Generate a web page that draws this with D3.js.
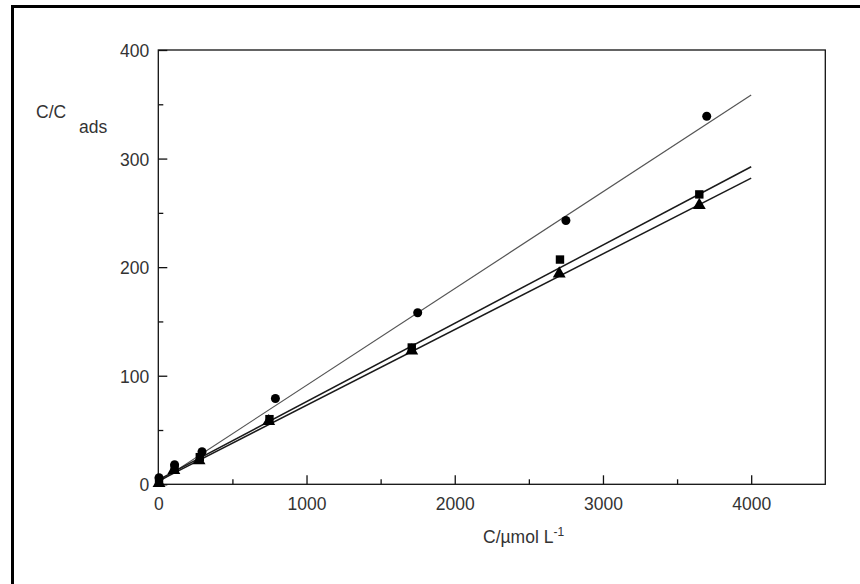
<!DOCTYPE html>
<html>
<head>
<meta charset="utf-8">
<script src="https://cdn.jsdelivr.net/npm/d3@7"></script>
<style>
  html, body { margin: 0; padding: 0; background: #fff; }
  svg { display: block; font-family: "Liberation Sans", Arial, sans-serif; }
</style>
</head>
<body>
<svg id="chart" width="860" height="584"></svg>
<script>
// values
const circleX = [5, 110, 295, 790, 1750, 2750, 3700];
const circleY = [6, 18, 30, 79, 158, 243, 339];
const squareX = [5, 110, 280, 750, 1710, 2710, 3650];
const squareY = [3, 15, 25, 60, 126, 207, 267];
const triangleX = [5, 105, 275, 745, 1710, 2705, 3650];
const triangleY = [1, 13, 22, 58, 123, 194, 257];

// fitted lines, endpoints [x, y]
const circleFit = [[0, 2], [4000, 358.5]];
const squareFit = [[0, 4], [4000, 292.5]];
const triangleFit = [[0, 3], [4000, 282]];

const xMajor = [0, 1000, 2000, 3000, 4000];
const xMinor = [500, 1500, 2500, 3500];
const yMajor = [0, 100, 200, 300, 400];
const yMinor = [50, 150, 250, 350];

const svg = d3.select("#chart");

// outer frame (runs off the page at right and bottom)
svg.append("rect")
  .attr("x", 12.5).attr("y", 6.5)
  .attr("width", 900).attr("height", 700)
  .attr("fill", "none").attr("stroke", "#000").attr("stroke-width", 3);

const x = d3.scaleLinear().domain([0, 4500]).range([158.3, 825.3]);
const y = d3.scaleLinear().domain([0, 400]).range([484.3, 50]);

// plot box
svg.append("rect")
  .attr("x", x(0)).attr("y", y(400))
  .attr("width", x(4500) - x(0)).attr("height", y(0) - y(400))
  .attr("fill", "none").attr("stroke", "#111").attr("stroke-width", 1.3);

// axes with ticks pointing inward
const xAxis = svg.append("g").attr("transform", `translate(0,${y(0)})`)
  .call(d3.axisBottom(x).tickValues(xMajor).tickFormat(d3.format("d"))
    .tickSizeInner(-9).tickSizeOuter(0).tickPadding(13));
const xAxisMinor = svg.append("g").attr("transform", `translate(0,${y(0)})`)
  .call(d3.axisBottom(x).tickValues(xMinor).tickFormat("")
    .tickSizeInner(-5).tickSizeOuter(0));
const yAxis = svg.append("g").attr("transform", `translate(${x(0)},0)`)
  .call(d3.axisLeft(y).tickValues(yMajor).tickFormat(d3.format("d"))
    .tickSizeInner(-9).tickSizeOuter(0).tickPadding(9));
const yAxisMinor = svg.append("g").attr("transform", `translate(${x(0)},0)`)
  .call(d3.axisLeft(y).tickValues(yMinor).tickFormat("")
    .tickSizeInner(-5).tickSizeOuter(0));

[xAxis, xAxisMinor, yAxis, yAxisMinor].forEach(a => {
  a.select(".domain").remove();
  a.selectAll("line").attr("stroke", "#111").attr("stroke-width", 1.3);
  a.selectAll("text").attr("font-size", 17.5).attr("fill", "#333")
    .attr("font-family", "Liberation Sans, Arial, sans-serif");
});
yAxis.selectAll("text").attr("dy", "0.38em");

// fit lines
const line = d3.line().x(d => x(d[0])).y(d => y(d[1]));
svg.append("path").datum(circleFit).attr("d", line)
  .attr("fill", "none").attr("stroke", "#555").attr("stroke-width", 1.2);
svg.append("path").datum(squareFit).attr("d", line)
  .attr("fill", "none").attr("stroke", "#1a1a1a").attr("stroke-width", 1.5);
svg.append("path").datum(triangleFit).attr("d", line)
  .attr("fill", "none").attr("stroke", "#1a1a1a").attr("stroke-width", 1.5);

// markers
const zip = (xs, ys) => xs.map((v, i) => [v, ys[i]]);
svg.append("g").selectAll("circle").data(zip(circleX, circleY)).join("circle")
  .attr("cx", d => x(d[0])).attr("cy", d => y(d[1])).attr("r", 4.5).attr("fill", "#000");
svg.append("g").selectAll("rect").data(zip(squareX, squareY)).join("rect")
  .attr("x", d => x(d[0]) - 4.2).attr("y", d => y(d[1]) - 4.2)
  .attr("width", 8.4).attr("height", 8.4).attr("fill", "#000");
const tri = d3.symbol().type(d3.symbolTriangle).size(72);
svg.append("g").selectAll("path").data(zip(triangleX, triangleY)).join("path")
  .attr("transform", d => `translate(${x(d[0])},${y(d[1])})`)
  .attr("d", tri).attr("fill", "#000");

// axis titles
const yt = svg.append("text").attr("x", 36).attr("y", 118)
  .attr("font-size", 17.5).attr("fill", "#333");
yt.append("tspan").text("C/C");
yt.append("tspan").attr("x", 79).attr("y", 133).text("ads");

const xt = svg.append("text").attr("x", 483).attr("y", 543)
  .attr("font-size", 17.5).attr("fill", "#333");
xt.append("tspan").text("C/\u00b5mol L");
xt.append("tspan").attr("dy", -7).attr("font-size", 12).text("-1");
</script>
</body>
</html>
